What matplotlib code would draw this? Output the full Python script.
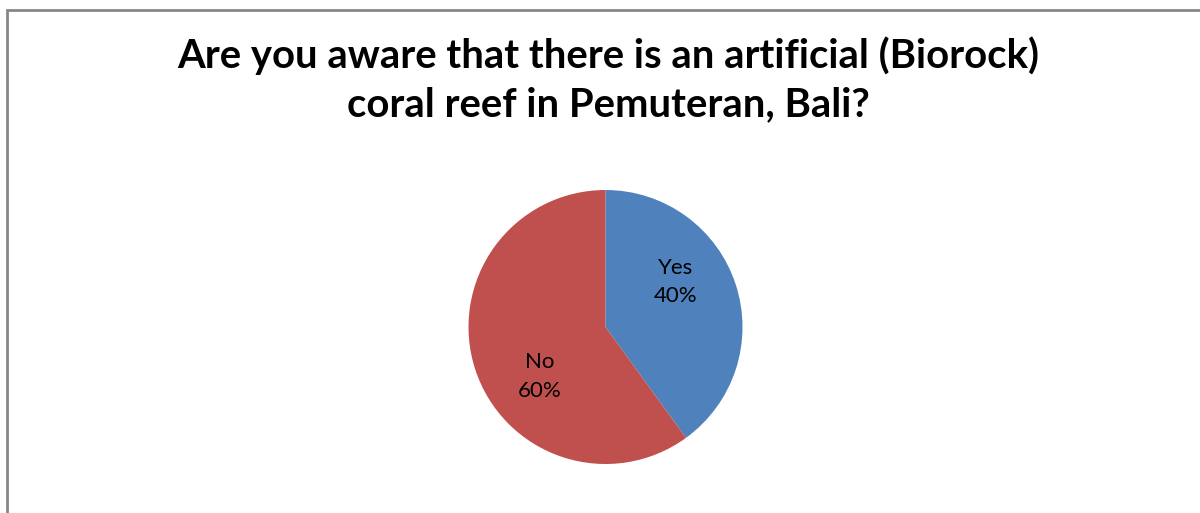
import matplotlib
matplotlib.use("Agg")
import matplotlib.pyplot as plt
from matplotlib.patches import Rectangle
import math

title = "Are you aware that there is an artificial (Biorock)\ncoral reef in Pemuteran, Bali?"
labels = ["Yes", "No"]
shares = [40, 60]
colors = ["#4F81BD", "#C0504D"]
# where Excel put the labels (fraction of radius, angle in degrees)
label_pos = [(0.61, 32.5), (0.60, 217.0)]

W, H = 1200, 513
fig = plt.figure(figsize=(W / 100, H / 100), dpi=100)

# chart frame
fig.patches.append(Rectangle((6.5 / W, -0.1), 1.2, (H - 9.5) / H + 0.1,
                             transform=fig.transFigure, fill=False,
                             edgecolor="#878787", linewidth=2))

fig.text(608 / W, 1 - 80 / H, title, ha="center", va="center",
         fontsize=28.8, fontweight="bold", family=["Lato", "DejaVu Sans"],
         linespacing=1.38)

r = 137
ax = fig.add_axes([(605.5 - r) / W, (H - 327 - r) / H, 2 * r / W, 2 * r / H])
wedges, texts = ax.pie(shares, colors=colors, startangle=90, counterclock=False,
                       labels=[f"{l}\n{s}%" for l, s in zip(labels, shares)],
                       labeldistance=0.6,
                       textprops=dict(fontsize=16, family=["Lato", "DejaVu Sans"],
                                      ha="center", va="center", linespacing=1.55))
for t, (d, a) in zip(texts, label_pos):
    t.set_position((d * math.cos(math.radians(a)), d * math.sin(math.radians(a))))
    t.set_ha("center")
    t.set_va("center")
ax.set_xlim(-1, 1)
ax.set_ylim(-1, 1)
ax.set_aspect("auto")

fig.savefig("out.png", dpi=100)
